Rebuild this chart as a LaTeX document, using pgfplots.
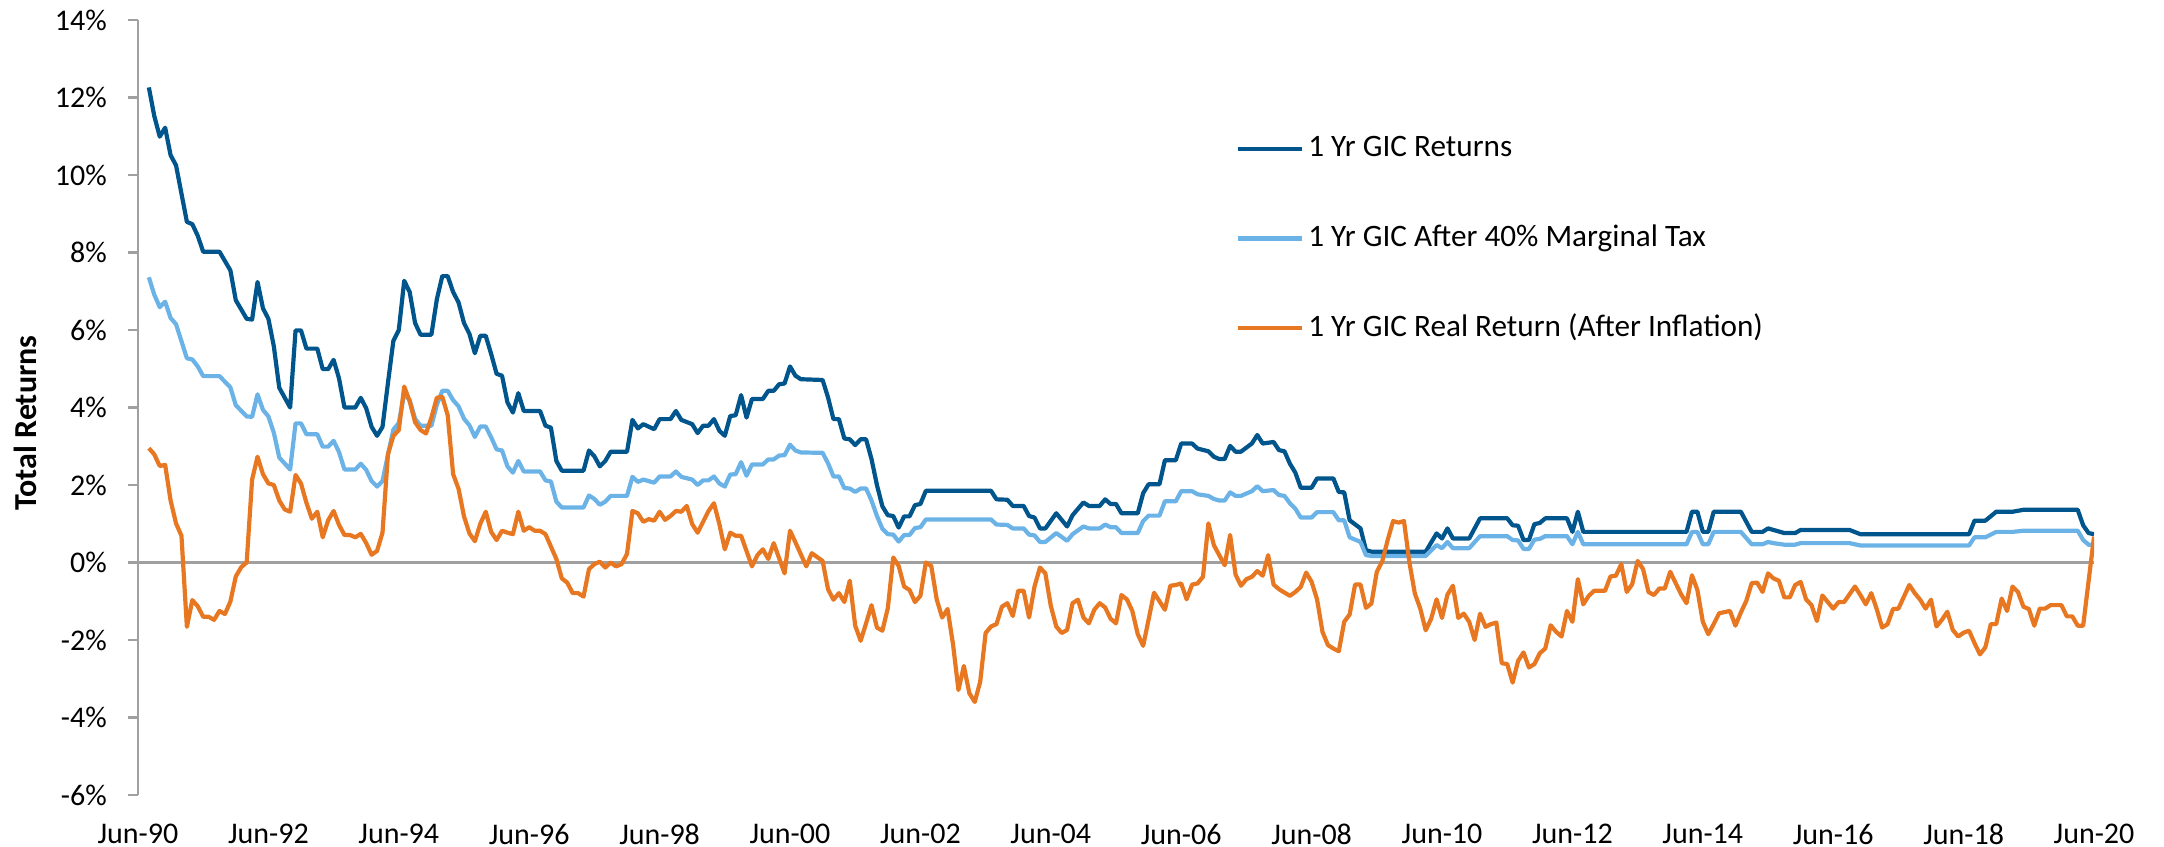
\documentclass[border=0pt]{standalone}
\usepackage{fontspec}
\setmainfont{Carlito}
\usepackage{pgfplots}
\usepackage{pgfplotstable}
\pgfplotsset{compat=1.18}

\definecolor{gicdark}{RGB}{0,85,140}
\definecolor{giclight}{RGB}{107,179,230}
\definecolor{gicorange}{RGB}{232,119,34}
\definecolor{axisgray}{RGB}{160,160,160}

% m = months since Jun-90; d = 1 Yr GIC, l = after 40% tax
\pgfplotstableread{
m d l
2 12.26 7.36
3 11.52 6.91
4 10.99 6.59
5 11.22 6.73
6 10.51 6.31
7 10.25 6.15
9 8.79 5.27
10 8.73 5.24
11 8.43 5.06
12 8.02 4.81
15 8.02 4.81
17 7.54 4.52
18 6.77 4.06
20 6.29 3.77
21 6.27 3.76
22 7.24 4.34
23 6.56 3.94
24 6.29 3.77
25 5.58 3.35
26 4.51 2.71
28 4.00 2.40
29 5.99 3.59
30 5.99 3.59
31 5.52 3.31
33 5.52 3.31
34 4.99 2.99
35 4.99 2.99
36 5.23 3.14
37 4.75 2.85
38 4.00 2.40
40 4.00 2.40
41 4.25 2.55
42 3.98 2.39
43 3.50 2.10
44 3.27 1.96
45 3.50 2.10
46 4.63 2.78
47 5.72 3.43
48 6.00 3.60
49 7.27 4.36
50 6.98 4.19
51 6.18 3.71
52 5.88 3.53
54 5.88 3.53
55 6.79 4.07
56 7.39 4.43
57 7.39 4.43
58 6.98 4.19
59 6.71 4.03
60 6.18 3.71
61 5.90 3.54
62 5.40 3.24
63 5.85 3.51
64 5.85 3.51
65 5.38 3.23
66 4.87 2.92
67 4.82 2.89
68 4.13 2.48
69 3.87 2.32
70 4.37 2.62
71 3.91 2.35
74 3.91 2.35
75 3.53 2.12
76 3.48 2.09
77 2.62 1.57
78 2.37 1.42
82 2.37 1.42
83 2.89 1.73
84 2.74 1.64
85 2.48 1.49
86 2.62 1.57
87 2.86 1.72
90 2.86 1.72
91 3.68 2.21
92 3.46 2.08
93 3.57 2.14
95 3.44 2.06
96 3.70 2.22
98 3.70 2.22
99 3.91 2.35
100 3.68 2.21
102 3.57 2.14
103 3.34 2.00
104 3.53 2.12
105 3.53 2.12
106 3.70 2.22
107 3.40 2.04
108 3.27 1.96
109 3.78 2.27
110 3.80 2.28
111 4.32 2.59
112 3.74 2.24
113 4.22 2.53
115 4.22 2.53
116 4.43 2.66
117 4.43 2.66
118 4.60 2.76
119 4.62 2.77
120 5.06 3.04
121 4.82 2.89
122 4.73 2.84
126 4.71 2.83
127 4.26 2.56
128 3.70 2.22
129 3.70 2.22
130 3.20 1.92
131 3.18 1.91
132 3.03 1.82
133 3.18 1.91
134 3.18 1.91
135 2.67 1.60
136 2.00 1.20
137 1.45 0.87
138 1.22 0.73
139 1.20 0.72
140 0.90 0.54
141 1.19 0.71
142 1.19 0.71
143 1.48 0.89
144 1.51 0.91
145 1.85 1.11
157 1.85 1.11
158 1.63 0.98
160 1.62 0.97
161 1.46 0.88
163 1.46 0.88
164 1.20 0.72
165 1.16 0.70
166 0.88 0.53
167 0.88 0.53
169 1.27 0.76
171 0.93 0.56
172 1.22 0.73
174 1.55 0.93
175 1.46 0.88
177 1.46 0.88
178 1.63 0.98
179 1.51 0.91
180 1.51 0.91
181 1.27 0.76
184 1.27 0.76
185 1.79 1.07
186 2.02 1.21
188 2.02 1.21
189 2.64 1.58
191 2.64 1.58
192 3.07 1.84
194 3.07 1.84
195 2.94 1.76
197 2.87 1.72
198 2.73 1.64
199 2.67 1.60
200 2.67 1.60
201 3.01 1.81
202 2.86 1.72
203 2.86 1.72
205 3.07 1.84
206 3.29 1.97
207 3.07 1.84
209 3.11 1.87
210 2.90 1.74
211 2.87 1.72
212 2.55 1.53
213 2.32 1.39
214 1.93 1.16
216 1.93 1.16
217 2.17 1.30
220 2.17 1.30
221 1.82 1.09
222 1.81 1.09
223 1.09 0.65
225 0.88 0.53
226 0.32 0.19
227 0.28 0.17
237 0.28 0.17
239 0.75 0.45
240 0.62 0.37
241 0.88 0.53
242 0.62 0.37
245 0.62 0.37
247 1.14 0.68
252 1.14 0.68
253 0.96 0.58
254 0.95 0.57
255 0.58 0.35
256 0.58 0.35
257 0.99 0.59
258 1.02 0.61
259 1.14 0.68
263 1.14 0.68
264 0.79 0.47
265 1.31 0.79
266 0.79 0.47
285 0.79 0.47
286 1.31 0.79
287 1.31 0.79
288 0.79 0.47
289 0.79 0.47
290 1.31 0.79
295 1.31 0.79
296 1.05 0.63
297 0.79 0.47
299 0.79 0.47
300 0.88 0.53
301 0.84 0.50
303 0.76 0.46
305 0.76 0.46
306 0.84 0.50
315 0.84 0.50
317 0.73 0.44
337 0.73 0.44
338 1.08 0.65
340 1.08 0.65
342 1.31 0.79
345 1.31 0.79
347 1.36 0.82
357 1.36 0.82
358 0.96 0.58
359 0.76 0.46
360 0.73 0.44
}\gic

% real return after inflation
\pgfplotstableread{
m r
2 2.95
3 2.79
4 2.49
5 2.52
6 1.60
7 1.01
8 0.69
9 -1.66
10 -0.97
11 -1.13
12 -1.40
13 -1.40
14 -1.48
15 -1.25
16 -1.33
17 -1.01
18 -0.36
19 -0.12
20 0.00
21 2.14
22 2.73
23 2.28
24 2.04
25 2.00
26 1.60
27 1.37
28 1.31
29 2.26
30 2.04
31 1.54
32 1.13
33 1.31
34 0.65
35 1.09
36 1.33
37 0.97
38 0.71
39 0.71
40 0.65
41 0.74
42 0.50
43 0.20
44 0.30
45 0.77
46 2.79
47 3.27
48 3.42
49 4.54
50 4.16
51 3.62
52 3.42
53 3.33
54 3.74
55 4.25
56 4.28
57 3.80
58 2.28
59 1.90
60 1.19
61 0.75
62 0.55
63 1.00
64 1.31
65 0.79
66 0.58
67 0.82
68 0.77
69 0.73
70 1.31
71 0.82
72 0.91
73 0.82
74 0.82
75 0.73
77 0.09
78 -0.41
79 -0.52
80 -0.79
81 -0.79
82 -0.88
83 -0.17
84 -0.04
85 0.02
86 -0.13
87 0.00
88 -0.10
89 -0.04
90 0.22
91 1.33
92 1.27
93 1.05
94 1.12
95 1.08
96 1.31
97 1.10
98 1.20
99 1.33
100 1.31
101 1.46
102 0.99
103 0.77
105 1.33
106 1.53
107 0.99
108 0.34
109 0.77
110 0.69
111 0.69
113 -0.10
114 0.19
115 0.34
116 0.09
117 0.50
119 -0.28
120 0.82
121 0.52
123 -0.10
124 0.24
126 0.04
127 -0.69
128 -0.96
129 -0.79
130 -1.02
131 -0.47
132 -1.63
133 -2.02
134 -1.57
135 -1.10
136 -1.68
137 -1.76
138 -1.18
139 0.13
140 -0.09
141 -0.62
142 -0.71
143 -1.02
144 -0.86
145 0.00
146 -0.09
147 -0.95
148 -1.42
149 -1.20
150 -2.11
151 -3.29
152 -2.67
153 -3.37
154 -3.60
155 -3.08
156 -1.82
157 -1.65
158 -1.59
159 -1.14
160 -1.05
161 -1.38
162 -0.73
163 -0.73
164 -1.42
165 -0.62
166 -0.13
167 -0.28
168 -1.12
169 -1.65
170 -1.82
171 -1.74
172 -1.05
173 -0.96
174 -1.42
175 -1.57
176 -1.22
177 -1.05
178 -1.16
179 -1.45
180 -1.57
181 -0.84
182 -0.95
183 -1.25
184 -1.85
185 -2.15
186 -1.47
187 -0.78
189 -1.22
190 -0.60
191 -0.58
192 -0.54
193 -0.95
194 -0.57
195 -0.54
196 -0.37
197 1.01
198 0.45
200 -0.07
201 0.71
202 -0.31
203 -0.60
204 -0.43
205 -0.37
206 -0.22
207 -0.34
208 0.19
209 -0.57
210 -0.69
212 -0.86
213 -0.76
214 -0.63
215 -0.26
216 -0.50
217 -0.95
218 -1.79
219 -2.13
220 -2.22
221 -2.29
222 -1.53
223 -1.34
224 -0.57
225 -0.57
226 -1.17
227 -1.06
228 -0.24
229 0.03
230 0.58
231 1.07
232 1.03
233 1.07
234 0.00
235 -0.80
236 -1.19
237 -1.75
238 -1.45
239 -0.95
240 -1.43
241 -0.83
242 -0.60
243 -1.43
244 -1.32
245 -1.53
246 -2.00
247 -1.32
248 -1.66
249 -1.59
250 -1.55
251 -2.60
252 -2.62
253 -3.10
254 -2.54
255 -2.32
256 -2.71
257 -2.62
258 -2.34
259 -2.22
260 -1.62
261 -1.79
262 -1.91
263 -1.25
264 -1.53
265 -0.43
266 -1.08
267 -0.86
268 -0.73
270 -0.73
271 -0.36
272 -0.34
273 -0.04
274 -0.76
275 -0.56
276 0.04
277 -0.17
278 -0.76
279 -0.84
280 -0.67
281 -0.67
282 -0.24
283 -0.53
284 -0.82
285 -1.05
286 -0.33
287 -0.71
288 -1.53
289 -1.85
290 -1.59
291 -1.31
293 -1.25
294 -1.63
295 -1.29
296 -0.99
297 -0.53
298 -0.52
299 -0.76
300 -0.28
301 -0.41
302 -0.47
303 -0.90
304 -0.90
305 -0.58
306 -0.50
307 -0.95
308 -1.10
309 -1.51
310 -0.85
311 -1.02
312 -1.19
313 -1.02
314 -1.02
315 -0.82
316 -0.62
317 -0.84
318 -1.08
319 -0.79
320 -1.20
321 -1.68
322 -1.59
323 -1.20
324 -1.19
326 -0.58
327 -0.79
328 -0.96
329 -1.19
330 -0.96
331 -1.65
332 -1.48
333 -1.27
334 -1.74
335 -1.91
336 -1.81
337 -1.76
338 -2.08
339 -2.37
340 -2.19
341 -1.59
342 -1.59
343 -0.93
344 -1.25
345 -0.62
346 -0.76
347 -1.14
348 -1.20
349 -1.63
350 -1.19
351 -1.19
352 -1.10
354 -1.10
355 -1.39
356 -1.39
357 -1.63
358 -1.63
360 0.67
}\real

\begin{document}
\begin{tikzpicture}
\begin{axis}[
  name=A, scale only axis, width=489pt, height=193.75pt,
  xmin=0, xmax=360, ymin=-6, ymax=14,
  axis x line*=bottom, axis y line*=left,
  axis line style={-},
  x axis line style={draw=none},
  y axis line style={draw=axisgray, line width=0.6pt},
  tick align=outside, major tick length=2.5pt,
  xtick={0,24,...,360},
  xticklabels={Jun-90,Jun-92,Jun-94,Jun-96,Jun-98,Jun-00,Jun-02,Jun-04,Jun-06,Jun-08,Jun-10,Jun-12,Jun-14,Jun-16,Jun-18,Jun-20},
  xtick style={draw=none},
  xticklabel style={font=\fontsize{7.5}{9}\selectfont, anchor=north, inner sep=0pt, yshift=-4.5pt},
  ytick={-6,-4,...,14},
  yticklabels={-6\%,-4\%,-2\%,0\%,2\%,4\%,6\%,8\%,10\%,12\%,14\%},
  ytick style={draw=axisgray, line width=0.6pt},
  yticklabel style={font=\fontsize{7.5}{9}\selectfont, anchor=east, inner sep=0pt, xshift=-5.1pt},
  extra y ticks={0}, extra y tick labels={},
  extra y tick style={grid=major, major tick length=0pt, major grid style={draw=axisgray, line width=0.6pt}},
  ylabel={\bfseries\fontsize{8}{9}\selectfont Total Returns},
  ylabel style={at={(axis description cs:-0.0578,0.48)}, anchor=center},
  legend cell align=left,
  legend image code/.code={\draw[#1] (0pt,0pt) -- (16pt,0pt);},
  legend style={at={(axis description cs:0.5614,0.8594)}, anchor=north west,
    draw=none, fill=none, inner sep=0pt, outer sep=0pt, row sep=12.4pt,
    font=\fontsize{7.8}{9}\selectfont,
    nodes={text height=6pt, text depth=2pt, inner sep=1pt}},
  every axis plot/.append style={line width=1.05pt, line join=round},
]
\addplot[gicdark] table[x=m, y=d] {\gic};
\addlegendentry{1 Yr GIC Returns}
\addplot[giclight] table[x=m, y=l] {\gic};
\addlegendentry{1 Yr GIC After 40\% Marginal Tax}
\addplot[gicorange] table[x=m, y=r] {\real};
\addlegendentry{1 Yr GIC Real Return (After Inflation)}
\end{axis}
\path ([shift={(-34.5pt,-12.75pt)}]A.south west) rectangle ([shift={(17.5pt,5pt)}]A.north east);
\end{tikzpicture}
\end{document}
